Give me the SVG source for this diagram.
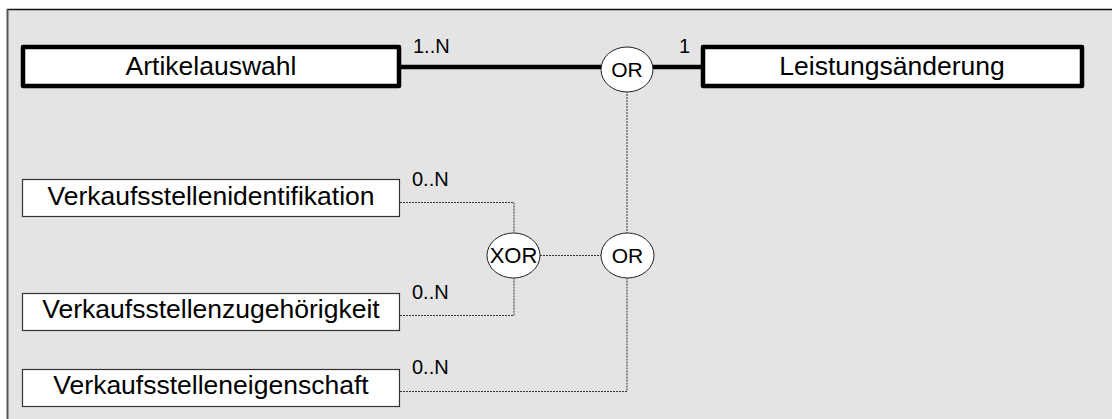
<svg xmlns="http://www.w3.org/2000/svg" width="1112" height="419" viewBox="0 0 1112 419">
<style>
.lbl{font-family:"Liberation Sans",Arial,sans-serif;fill:#000}
.big{font-size:26.5px;text-anchor:middle}
.card{font-size:20px}
.op{font-size:21px;text-anchor:middle}
.thick{fill:#fff;stroke:#000;stroke-width:4.5;stroke-linejoin:round}
.thin{fill:#fff;stroke:#333;stroke-width:1.2}
.ell{fill:#fff;stroke:#222;stroke-width:1}
.dot{fill:none;stroke:#333;stroke-width:1;stroke-dasharray:2,1}
</style>
<rect x="0" y="0" width="1112" height="419" fill="#fff"/>
<rect x="7.5" y="9.5" width="1110" height="415" fill="#e4e4e4"/>
<line x1="7" y1="9.5" x2="1112" y2="9.5" stroke="#111" stroke-width="1.5"/>
<line x1="7.5" y1="9" x2="7.5" y2="419" stroke="#555" stroke-width="2"/>
<g id="connectors">
<line x1="400" y1="67" x2="702" y2="67" stroke="#000" stroke-width="4.5"/>
<path class="dot" d="M627 91V233"/>
<path class="dot" d="M400 202.5H514V233"/>
<path class="dot" d="M400 315.5H514V278"/>
<path class="dot" d="M540 255.5H601"/>
<path class="dot" d="M400 391.5H627V278"/>
<text class="lbl card" x="413" y="53">1..N</text>
<text class="lbl card" x="679" y="53">1</text>
<text class="lbl card" x="412" y="186">0..N</text>
<text class="lbl card" x="412" y="299">0..N</text>
<text class="lbl card" x="412" y="374">0..N</text>
</g>
<g id="artikelauswahl">
<rect class="thick" x="23" y="47" width="376" height="39"/>
<text class="lbl big" x="211" y="75">Artikelauswahl</text>
</g>
<g id="leistungsaenderung">
<rect class="thick" x="703" y="47" width="379" height="39"/>
<text class="lbl big" x="892" y="75">Leistungsänderung</text>
</g>
<g id="or1">
<ellipse class="ell" cx="627" cy="69.5" rx="26" ry="22.5"/>
<text class="lbl op" x="627" y="77">OR</text>
</g>
<g id="identifikation">
<rect class="thin" x="22.5" y="179.5" width="377" height="37"/>
<text class="lbl big" x="211" y="205">Verkaufsstellenidentifikation</text>
</g>
<g id="zugehoerigkeit">
<rect class="thin" x="22.5" y="293.5" width="377" height="37"/>
<text class="lbl big" x="211" y="318">Verkaufsstellenzugehörigkeit</text>
</g>
<g id="eigenschaft">
<rect class="thin" x="22.5" y="369.5" width="377" height="37"/>
<text class="lbl big" x="211" y="394">Verkaufsstelleneigenschaft</text>
</g>
<g id="xor">
<ellipse class="ell" cx="513.5" cy="255.5" rx="26.5" ry="22.5"/>
<text class="lbl op" x="513.5" y="263" style="font-size:22px">XOR</text>
</g>
<g id="or2">
<ellipse class="ell" cx="627.5" cy="255.5" rx="26.5" ry="22.5"/>
<text class="lbl op" x="627.5" y="263">OR</text>
</g>
</svg>
